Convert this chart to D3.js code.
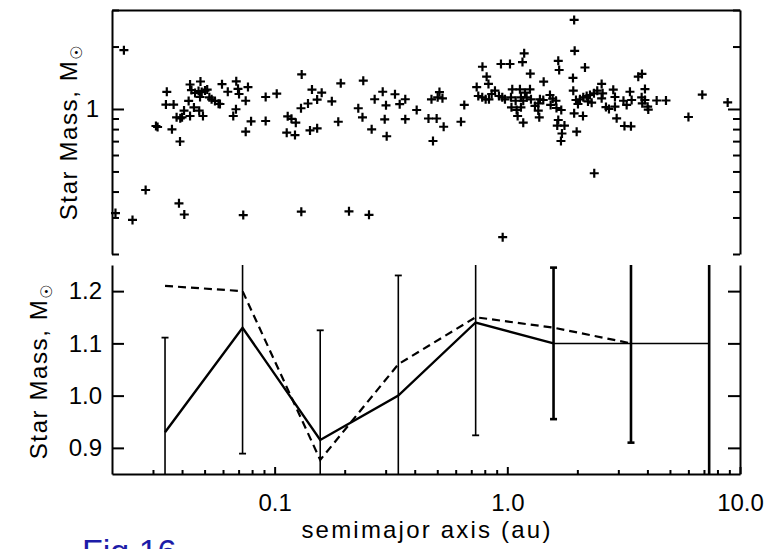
<!DOCTYPE html>
<html>
<head>
<meta charset="utf-8">
<script src="https://cdn.jsdelivr.net/npm/d3@7"></script>
<style>
  html, body { margin: 0; padding: 0; background: #fff; overflow: hidden; }
  svg { display: block; }
  text { font-family: "Liberation Sans", Arial, Helvetica, sans-serif; fill: #000; }
</style>
</head>
<body>
<svg id="chart" width="784" height="549"></svg>
<script>
// ---------------- data ----------------
// top panel: individual planets (semimajor axis in au, host star mass in Msun)
const semimajorAxis = [
0.0207,0.0225,0.0245,0.0279,0.0309,0.0314,0.0344,0.0341,0.0368,0.0362,
0.0392,0.0379,0.0393,0.0400,0.0388,0.0409,0.0408,0.0427,0.0433,0.0439,
0.0455,0.0480,0.0471,0.0486,0.0502,0.0513,0.0478,0.0524,0.0536,0.0554,
0.0574,0.0450,0.0433,0.0492,0.0474,0.0594,0.0629,0.0684,0.0696,0.0703,
0.0768,0.0751,0.0582,0.0682,0.0664,0.0792,0.0751,0.0915,0.1021,0.0915,
0.1138,0.1181,0.1233,0.1127,0.1223,0.1307,0.1298,0.1391,0.1447,0.1523,
0.1593,0.1419,0.1523,0.0733,0.1302,0.1761,0.1924,0.1877,0.2404,0.2288,
0.2385,0.2612,0.2914,0.2691,0.3010,0.3290,0.3447,0.3643,0.2972,0.3031,
0.3643,0.4078,0.2087,0.2544,0.4721,0.5019,0.5109,0.5263,0.4583,0.4969,
0.5326,0.4792,0.6532,0.6321,0.7819,0.8150,0.8298,0.7385,0.7502,0.7802,
0.8070,0.8338,0.8564,0.8849,0.9206,0.9512,0.9770,0.9391,1.0266,1.1816,
1.1619,1.2552,1.0501,1.1330,1.1909,1.2514,1.0419,1.0965,1.1074,1.1443,
1.1707,0.9551,1.0369,1.0858,1.1443,1.1707,1.2107,1.2638,1.9375,1.9473,
1.6556,1.6705,2.1564,1.4329,1.9148,1.9206,1.5249,1.5665,1.6186,1.4273,
1.3584,1.3147,1.3584,1.3719,1.5354,1.6265,1.7054,1.6556,1.6393,1.7603,
1.7172,1.7002,1.9375,2.1142,1.9862,2.3040,2.5432,2.5686,2.6540,2.7340,
2.8530,2.9506,2.9014,2.9014,3.1564,3.2576,3.3654,3.4226,3.1878,3.3990,
2.3638,1.9726,2.0522,2.1206,2.1930,2.2654,2.3568,2.4352,2.5432,2.0120,
2.2216,3.654,3.790,3.904,3.779,3.904,3.801,4.010,4.034,4.384,
4.807,6.884,6.004,8.852,1.381
];
const starMass = [
0.315,1.92,0.292,0.407,0.828,0.819,1.21,1.05,1.05,0.798,
0.697,0.912,0.902,0.912,0.351,0.310,0.983,1.093,1.312,1.234,
1.194,1.357,1.221,1.207,1.227,1.241,1.142,1.138,1.113,1.093,
1.059,1.017,0.925,0.925,0.981,1.317,1.211,1.360,1.251,1.181,
1.276,1.096,1.057,0.997,0.925,0.872,0.777,1.142,1.185,0.875,
0.922,0.897,0.859,0.769,0.749,1.467,1.008,1.063,1.241,1.110,
1.198,0.788,0.807,0.308,0.320,1.089,1.330,0.868,1.369,1.008,
0.912,0.798,1.211,1.114,1.042,1.178,1.055,1.114,0.892,0.739,
0.893,0.989,0.321,0.309,1.113,1.138,1.207,1.126,0.900,0.900,
0.821,0.701,1.046,0.868,1.598,1.431,1.320,1.276,1.155,1.138,
1.113,1.113,1.181,1.225,1.155,1.138,1.113,1.648,1.648,1.855,
1.684,1.480,1.244,1.244,1.198,1.244,1.019,0.989,0.925,1.019,
0.859,0.241,1.138,1.096,1.138,1.096,1.138,1.113,2.686,1.907,
1.707,1.541,1.585,1.354,1.411,1.225,1.168,1.123,1.096,1.105,
1.065,1.034,0.983,0.912,1.046,1.011,0.989,0.885,0.832,0.832,
0.762,0.701,0.953,0.925,0.777,1.072,1.126,1.190,1.022,1.000,
1.239,0.902,1.026,1.142,1.096,1.046,1.211,1.105,0.828,0.825,
0.490,1.105,1.113,1.138,1.155,1.168,1.190,1.225,1.320,1.057,
1.087,1.431,1.475,1.248,1.138,1.105,1.065,1.026,0.994,1.099,
1.099,1.172,0.915,1.075,1.113
];

// bottom panel: binned means
const binCenters   = [0.0338, 0.0728, 0.157, 0.340, 0.731, 1.58, 3.40, 7.37];
const meanSolid    = [0.93, 1.13, 0.915, 1.00, 1.14, 1.10, 1.10, 1.10];
const errSolid     = [0.181, 0.241, 0.21, 0.23, 0.216, 0.145, 0.19, 0.50];
const meanDashed   = [1.21, 1.20, 0.877, 1.06, 1.15, 1.13, 1.10];

// tick values / labels
const xMinorTicks = [0.03,0.04,0.05,0.06,0.07,0.08,0.09,0.2,0.3,0.4,0.5,0.6,0.7,0.8,0.9,2,3,4,5,6,7,8,9];
const xMajorTicks = [0.1, 1, 10];
const topYTicks   = [0.2,0.3,0.4,0.5,0.6,0.7,0.8,0.9,1,2,3];
const topYLabels  = [1];
const botYTicks   = [0.9, 1.0, 1.1, 1.2];
const yTitle = "Star Mass, M";
const xTitle = "semimajor axis (au)";
const figLabel = "Fig 16";

// ---------------- layout ----------------
const svg = d3.select("#chart");
const L = 112, R = 740;
const topT = 10, topB = 254;
const botT = 265, botB = 474;
const FS = 24;

const x = d3.scaleLog().domain([0.02, 10]).range([L, R]);
const yTop = d3.scaleLog().domain([0.2, 3]).range([topB, topT]);
const yBot = d3.scaleLinear().domain([0.85, 1.25]).range([botB, botT]);

const AX_W = 2;
function styleAxis(g) {
  g.selectAll("path.domain").attr("stroke", "#000").attr("stroke-width", AX_W);
  g.selectAll(".tick line").attr("stroke", "#000").attr("stroke-width", AX_W);
  g.selectAll(".tick text").remove();
}
function styleLabels(g) {
  g.select("path.domain").remove();
  g.selectAll("text").attr("font-size", FS).attr("fill", "#000")
    .attr("font-family", '"Liberation Sans", Arial, sans-serif');
}

// ---------------- top panel ----------------
const gTL = svg.append("g").attr("transform", `translate(${L},0)`)
  .call(d3.axisRight(yTop).tickValues(topYTicks).tickSizeOuter(0).tickFormat(""));
styleAxis(gTL);
gTL.selectAll(".tick line").attr("x2", d => d === 1 ? 12 : 7);
const gTR = svg.append("g").attr("transform", `translate(${R},0)`)
  .call(d3.axisLeft(yTop).tickValues(topYTicks).tickSizeOuter(0).tickFormat(""));
styleAxis(gTR);
gTR.selectAll(".tick line").attr("x2", d => d === 1 ? -12 : -7);
const gTT = svg.append("g").attr("transform", `translate(0,${topT})`)
  .call(d3.axisTop(x).tickValues([]).tickSizeOuter(0));
styleAxis(gTT);
const gTLab = svg.append("g").attr("transform", `translate(${L},0)`)
  .call(d3.axisLeft(yTop).tickValues(topYLabels).tickSize(0).tickPadding(13).tickFormat(d3.format("d")));
styleLabels(gTLab);

// scatter "+" markers
const pts = semimajorAxis.map((a, i) => ({a, m: starMass[i]}));
const hs = 4.5;
svg.append("g").selectAll("path").data(pts).join("path")
  .attr("d", d => {
    const px = x(d.a), py = yTop(d.m);
    return `M${px - hs},${py}H${px + hs}M${px},${py - hs}V${py + hs}`;
  })
  .attr("stroke", "#000").attr("stroke-width", 2.2).attr("fill", "none");

function yTitleText(cx, cy) {
  const t = svg.append("text")
    .attr("transform", `translate(${cx},${cy}) rotate(-90)`)
    .attr("text-anchor", "middle")
    .attr("font-size", FS)
    .attr("letter-spacing", 1.6);
  t.append("tspan").text(yTitle);
  t.append("tspan").attr("font-size", 16).attr("dy", 5)
    .attr("font-family", '"DejaVu Sans", sans-serif').text("\u2609");
}
yTitleText(77, 132);

// ---------------- bottom panel ----------------
const clipId = "botclip";
svg.append("clipPath").attr("id", clipId).append("rect")
  .attr("x", L - 5).attr("y", botT).attr("width", R - L + 10).attr("height", botB - botT);

const gBL = svg.append("g").attr("transform", `translate(${L},0)`)
  .call(d3.axisRight(yBot).tickValues(botYTicks).tickSizeOuter(0).tickSizeInner(12).tickFormat(""));
styleAxis(gBL);
const gBR = svg.append("g").attr("transform", `translate(${R},0)`)
  .call(d3.axisLeft(yBot).tickValues(botYTicks).tickSizeOuter(0).tickSizeInner(12).tickFormat(""));
styleAxis(gBR);
const gBB = svg.append("g").attr("transform", `translate(0,${botB})`)
  .call(d3.axisTop(x).tickValues(xMajorTicks.concat(xMinorTicks)).tickSizeOuter(0).tickFormat(""));
styleAxis(gBB);
gBB.selectAll(".tick line").attr("y2", d => xMajorTicks.includes(d) ? -7 : -4);

const gBLab = svg.append("g").attr("transform", `translate(${L},0)`)
  .call(d3.axisLeft(yBot).tickValues(botYTicks).tickSize(0).tickPadding(10).tickFormat(d3.format(".1f")));
styleLabels(gBLab);

const gXLab = svg.append("g").attr("transform", `translate(0,${botB})`)
  .call(d3.axisBottom(x).tickValues(xMajorTicks).tickSize(0).tickPadding(20).tickFormat(d3.format(".1f")));
styleLabels(gXLab);

svg.append("text").attr("x", (L + R) / 2 + 1).attr("y", 538)
  .attr("text-anchor", "middle").attr("font-size", FS).attr("letter-spacing", 2.2)
  .text(xTitle);

yTitleText(47, 371);

// series
const gData = svg.append("g").attr("clip-path", `url(#${clipId})`);
const solid = binCenters.map((c, i) => ({c, m: meanSolid[i], e: errSolid[i], i}));
const dashed = meanDashed.map((m, i) => ({c: binCenters[i], m}));
const line = d3.line().x(d => x(d.c)).y(d => yBot(d.m));

gData.selectAll("line.err").data(solid).join("line").attr("class", "err")
  .attr("x1", d => x(d.c)).attr("x2", d => x(d.c))
  .attr("y1", d => yBot(d.m - d.e)).attr("y2", d => yBot(d.m + d.e))
  .attr("stroke", "#000").attr("stroke-width", d => d.i >= 5 ? 2.6 : 1.6);
const capW = 3.5;
const caps = [];
solid.forEach(d => {
  [d.m - d.e, d.m + d.e].forEach(v => {
    if (v > 0.85 && v < 1.25) caps.push({c: d.c, v, i: d.i});
  });
});
gData.selectAll("line.cap").data(caps).join("line").attr("class", "cap")
  .attr("x1", d => x(d.c) - capW).attr("x2", d => x(d.c) + capW)
  .attr("y1", d => yBot(d.v)).attr("y2", d => yBot(d.v))
  .attr("stroke", "#000").attr("stroke-width", d => d.i >= 5 ? 2.6 : 1.8);

gData.append("path").datum(solid.slice(0, 6)).attr("d", line)
  .attr("fill", "none").attr("stroke", "#000").attr("stroke-width", 2.4);
gData.append("path").datum(solid.slice(5)).attr("d", line)
  .attr("fill", "none").attr("stroke", "#000").attr("stroke-width", 1.5);
gData.append("path").datum(dashed).attr("d", line)
  .attr("fill", "none").attr("stroke", "#000").attr("stroke-width", 2.2)
  .attr("stroke-dasharray", "8,5");

// figure label (partially cut off at the bottom, as in the reference)
svg.append("text").attr("x", 82).attr("y", 563)
  .attr("font-size", 34).style("fill", "#1c1ca8")
  .text(figLabel);
</script>
</body>
</html>
